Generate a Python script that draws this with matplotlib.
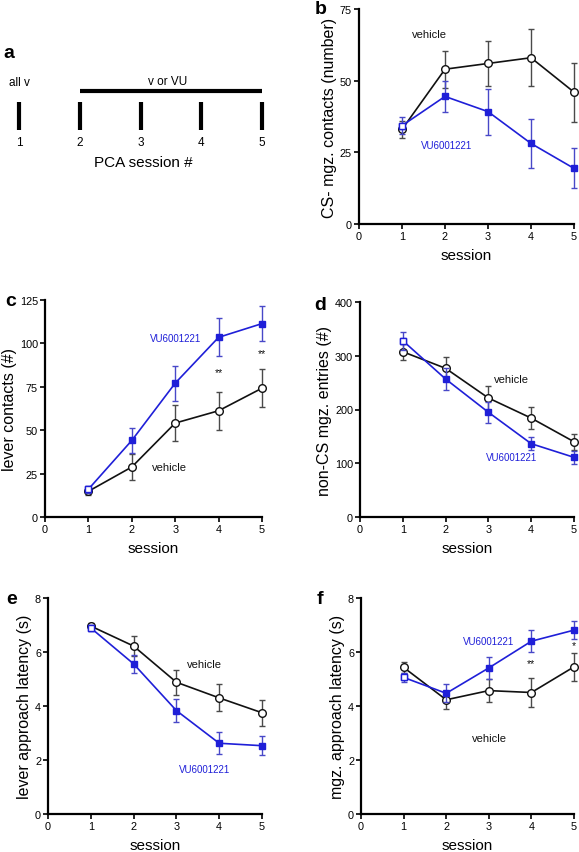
import matplotlib
matplotlib.use("Agg")
import matplotlib.pyplot as plt
import numpy as np

plt.rcParams['font.family'] = ['Liberation Sans', 'DejaVu Sans']

sessions = [1, 2, 3, 4, 5]
BLUE = '#1f1fd8'
BLUE_ERR = '#4848c8'
BLACK = '#111111'
BLACK_ERR = '#4a4a4a'

# panel b: CS- mgz. contacts
b_veh = [33, 54, 56, 58, 46]
b_veh_err = [3, 6.5, 8, 10, 10.3]
b_vu = [34.3, 44.5, 39.2, 28.1, 19.4]
b_vu_err = [3, 5.5, 8, 8.7, 7]

# panel c: lever contacts
c_veh = [14.8, 28.8, 54.1, 61.2, 74.2]
c_veh_err = [2, 7.5, 10.5, 10.8, 11]
c_vu = [16, 44.1, 77.1, 103.5, 111.4]
c_vu_err = [2, 7, 10, 11, 10]

# panel d: non-CS mgz. entries
d_veh = [307.5, 276.6, 221.4, 184, 140]
d_veh_err = [15, 22, 23, 20, 15]
d_vu = [328, 256.7, 194.8, 136.4, 111]
d_vu_err = [17, 20, 20, 12, 12]

# panel e: lever approach latency
e_veh = [6.96, 6.22, 4.88, 4.3, 3.75]
e_veh_err = [0.12, 0.36, 0.46, 0.5, 0.48]
e_vu = [6.89, 5.56, 3.83, 2.62, 2.53]
e_vu_err = [0.1, 0.34, 0.43, 0.41, 0.35]

# panel f: mgz. approach latency
f_veh = [5.43, 4.23, 4.57, 4.5, 5.45]
f_veh_err = [0.2, 0.34, 0.42, 0.52, 0.52]
f_vu = [5.06, 4.47, 5.41, 6.4, 6.81]
f_vu_err = [0.17, 0.33, 0.4, 0.4, 0.34]

W, H = 579, 853
fig = plt.figure(figsize=(W / 100, H / 100), dpi=100)


def px_axes(left, right, top, bottom):
    return fig.add_axes([left / W, 1 - bottom / H, (right - left) / W, (bottom - top) / H])


def panel(ax, veh, veh_err, vu, vu_err, yticks, ylabel):
    ax.errorbar(sessions, veh, yerr=veh_err, color=BLACK, ecolor=BLACK_ERR, lw=1.2,
                elinewidth=1.0, capsize=2.5, capthick=1.0, marker='o', ms=5.5,
                mfc='white', mec=BLACK, mew=1.0, clip_on=False, zorder=3)
    ax.errorbar(sessions, vu, yerr=vu_err, color=BLUE, ecolor=BLUE_ERR, lw=1.2,
                elinewidth=1.0, capsize=2.5, capthick=1.0, marker='s', ms=5,
                mfc=BLUE, mec=BLUE, mew=1.0, clip_on=False, zorder=4)
    # first session (before treatment) shown as open square
    ax.plot(sessions[:1], vu[:1], linestyle='none', marker='s', ms=5, mfc='white',
            mec=BLUE, mew=1.0, clip_on=False, zorder=5)
    ax.set_xlim(0, 5)
    ax.set_ylim(yticks[0], yticks[-1])
    ax.set_xticks(range(0, 6))
    ax.set_yticks(yticks)
    for s in ['top', 'right']:
        ax.spines[s].set_visible(False)
    for s in ['left', 'bottom']:
        ax.spines[s].set_linewidth(1.6)
    ax.tick_params(direction='out', length=3.5, width=1.2, labelsize=7.8, pad=1.5)
    ax.set_xlabel('session', fontsize=11, labelpad=5)
    ax.set_ylabel(ylabel, fontsize=11.5, labelpad=2)
    ax.patch.set_alpha(0)


ax_b = px_axes(359, 574, 10, 225)
panel(ax_b, b_veh, b_veh_err, b_vu, b_vu_err, [0, 25, 50, 75], 'CS- mgz. contacts (number)')
ax_b.text(1.64, 66.3, 'vehicle', fontsize=8, ha='center', va='center', color=BLACK)
ax_b.text(2.03, 27.7, 'VU6001221', fontsize=7, ha='center', va='center', color=BLUE)

ax_c = px_axes(45, 262, 301, 518)
panel(ax_c, c_veh, c_veh_err, c_vu, c_vu_err, [0, 25, 50, 75, 100, 125], 'lever contacts (#)')
ax_c.text(2.87, 29, 'vehicle', fontsize=8, ha='center', va='center', color=BLACK)
ax_c.text(3.0, 103, 'VU6001221', fontsize=7, ha='center', va='center', color=BLUE)
ax_c.text(4, 83.6, '**', fontsize=7.5, ha='center', va='center', color=BLACK)
ax_c.text(5, 94.5, '**', fontsize=7.5, ha='center', va='center', color=BLACK)

ax_d = px_axes(360, 574, 303, 518)
panel(ax_d, d_veh, d_veh_err, d_vu, d_vu_err, [0, 100, 200, 300, 400], 'non-CS mgz. entries (#)')
ax_d.text(3.53, 257, 'vehicle', fontsize=8, ha='center', va='center', color=BLACK)
ax_d.text(3.55, 112, 'VU6001221', fontsize=7, ha='center', va='center', color=BLUE)

ax_e = px_axes(48, 262, 599, 815)
panel(ax_e, e_veh, e_veh_err, e_vu, e_vu_err, [0, 2, 4, 6, 8], 'lever approach latency (s)')
ax_e.text(3.65, 5.56, 'vehicle', fontsize=8, ha='center', va='center', color=BLACK)
ax_e.text(3.67, 1.67, 'VU6001221', fontsize=7, ha='center', va='center', color=BLUE)

ax_f = px_axes(361, 574, 599, 815)
panel(ax_f, f_veh, f_veh_err, f_vu, f_vu_err, [0, 2, 4, 6, 8], 'mgz. approach latency (s)')
ax_f.text(3.02, 2.8, 'vehicle', fontsize=8, ha='center', va='center', color=BLACK)
ax_f.text(3.0, 6.4, 'VU6001221', fontsize=7, ha='center', va='center', color=BLUE)
ax_f.text(4, 5.6, '**', fontsize=7.5, ha='center', va='center', color=BLACK)
ax_f.text(5, 6.25, '*', fontsize=7.5, ha='center', va='center', color=BLACK)

# panel letters
for letter, (x, y) in {'a': (9, 53), 'b': (321, 10), 'c': (11, 301), 'd': (320, 305),
                       'e': (12, 600), 'f': (320, 600)}.items():
    fig.text(x / W, 1 - y / H, letter, fontsize=14, fontweight='bold', ha='center', va='center')

# panel a: schematic of sessions
ax_a = px_axes(0, 290, 40, 180)
ax_a.set_xlim(1 - 19 / 60.75, 1 + (290 - 19) / 60.75)
ax_a.set_ylim(180, 40)
ax_a.axis('off')
treat = sessions[1:]
ax_a.plot([treat[0], treat[-1]], [92, 92], color='black', lw=3, solid_capstyle='butt')
ax_a.vlines(sessions, 103, 131, color='black', lw=3)
for s in sessions:
    ax_a.text(s, 143, str(s), fontsize=8.5, ha='center', va='center')
ax_a.text(sessions[0], 83, 'all v', fontsize=8.5, ha='center', va='center')
ax_a.text(np.mean([treat[0], treat[-1]]) - 0.05, 82, 'v or VU', fontsize=8.5, ha='center', va='center')
ax_a.text(3.05, 163, 'PCA session #', fontsize=11, ha='center', va='center')

fig.savefig('out.png', dpi=100)
